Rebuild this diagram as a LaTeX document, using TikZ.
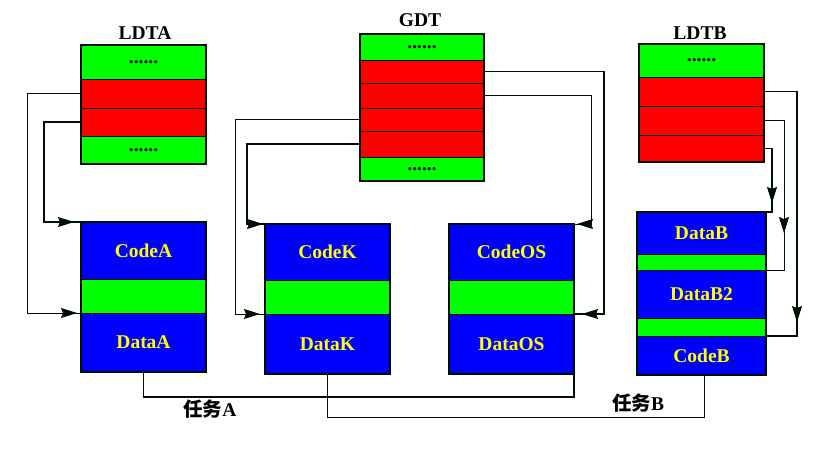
\documentclass[tikz,border=0pt]{standalone}
\usepackage{fontspec}
\setmainfont{Liberation Serif}
\newfontfamily\cjk{Noto Sans CJK SC}
\usetikzlibrary{arrows.meta,decorations.markings}
\definecolor{cgreen}{RGB}{0,255,0}
\definecolor{cred}{RGB}{255,0,0}
\definecolor{cblue}{RGB}{0,0,255}
\definecolor{cyel}{RGB}{255,255,0}
\definecolor{cline}{RGB}{0,16,0}
\begin{document}
\begin{tikzpicture}[x=1pt,y=-1pt,
  cell/.style 2 args={draw=cline,line width=0.9pt,inner sep=0pt,outer sep=0pt,
    minimum width=#1,minimum height=#2,font=\fontsize{19.5}{20}\selectfont\bfseries},
  gcell/.style 2 args={cell={#1}{#2},fill=cgreen},
  rcell/.style 2 args={cell={#1}{#2},fill=cred},
  bcell/.style 2 args={cell={#1}{#2},fill=cblue,text=cyel},
  frame/.style={draw=cline,line width=1.4pt},
  lbl/.style={inner sep=0pt,font=\fontsize{19.5}{20}\selectfont\bfseries},
  thinc/.style={draw=cline,line width=0.8pt},
  thickc/.style={draw=cline,line width=1.4pt},
  arrowat/.style={postaction={decorate,decoration={markings,
    mark=at position #1 with {\arrow[line width=0.8pt]{Stealth[length=16pt,width=10pt,inset=2pt]}}}}}
]
\useasboundingbox (0,0) rectangle (835,463);
\fill[white] (0,0) rectangle (835,463);

% LDTA
\node[lbl] (tLDTA) at (145,33) {LDTA};
\node[gcell={125}{34}] (la1) at (143.5,62) {......};
\node[rcell={125}{29}] (la2) at (143.5,93.5) {};
\node[rcell={125}{28}] (la3) at (143.5,122) {};
\node[gcell={125}{28}] (la4) at (143.5,150) {......};
\draw[frame] (la1.north west) rectangle (la4.south east);

% GDT
\node[lbl] (tGDT) at (420,20) {GDT};
\node[gcell={124}{26}] (g1) at (422,47) {......};
\node[rcell={124}{23}] (g2) at (422,71.5) {};
\node[rcell={124}{25}] (g3) at (422,95.5) {};
\node[rcell={124}{23}] (g4) at (422,119.5) {};
\node[rcell={124}{26}] (g5) at (422,144) {};
\node[gcell={124}{24}] (g6) at (422,169) {......};
\draw[frame] (g1.north west) rectangle (g6.south east);

% LDTB
\node[lbl] (tLDTB) at (700,33) {LDTB};
\node[gcell={125}{33}] (lb1) at (701.5,60.5) {......};
\node[rcell={125}{29}] (lb2) at (701.5,91.5) {};
\node[rcell={125}{29}] (lb3) at (701.5,120.5) {};
\node[rcell={125}{27}] (lb4) at (701.5,148.5) {};
\draw[frame] (lb1.north west) rectangle (lb4.south east);

% Task A segments
\node[bcell={125}{57}] (ca1) at (143.5,250.5) {CodeA};
\node[gcell={125}{34}] (ca2) at (143.5,296) {};
\node[bcell={125}{59}] (ca3) at (143.5,342.5) {DataA};
\draw[frame] (ca1.north west) rectangle (ca3.south east);

% Kernel segments
\node[bcell={125}{56}] (k1) at (327.5,252) {CodeK};
\node[gcell={125}{34}] (k2) at (327.5,297) {};
\node[bcell={125}{60}] (k3) at (327.5,344) {DataK};
\draw[frame] (k1.north west) rectangle (k3.south east);

% OS segments
\node[bcell={125}{56}] (os1) at (511.5,252) {CodeOS};
\node[gcell={125}{34}] (os2) at (511.5,297) {};
\node[bcell={125}{60}] (os3) at (511.5,344) {DataOS};
\draw[frame] (os1.north west) rectangle (os3.south east);

% Task B segments
\node[bcell={129}{42}] (bb1) at (701.5,233) {DataB};
\node[gcell={129}{16}] (bb2) at (701.5,262) {};
\node[bcell={129}{48}] (bb3) at (701.5,294) {DataB2};
\node[gcell={129}{18}] (bb4) at (701.5,327) {};
\node[bcell={129}{39}] (bb5) at (701.5,355.5) {CodeB};
\draw[frame] (bb1.north west) rectangle (bb5.south east);

% LDTA connectors
\draw[thinc,arrowat=-4pt] (la2.west) -- ++(-54,0) |- (ca3.north west);
\draw[thickc,arrowat=-7pt] (la3.west) -- ++(-37,0) |- (ca1.north west);

% GDT connectors
\draw[thinc,arrowat=-5pt] (g4.west) -- ++(-125,0) |- (k3.north west);
\draw[thickc,arrowat=-2pt] (g5.west) -- ++(-113,0) |- (k1.north west);
\draw[thickc,arrowat=-8pt] (g2.east) -- ++(120,0) |- (os3.north east);
\draw[thinc,arrowat=-3pt] (g3.east) -- ++(107,0) |- (os1.north east);

% LDTB connectors
\draw[thickc,arrowat=-45pt] (lb2.east) -- ++(33,0) |- (bb5.north east);
\draw[thinc,arrowat=-55pt] (lb3.east) -- ++(20,0) |- (bb3.north east);
\draw[thickc,arrowat=-15pt] (lb4.east) -- ++(8,0) |- (bb1.north east);

% Task lines
\draw[thickc] (ca3.south) -- ++(0,25) -| (os3.south east);
\node[lbl] (tA) at (210,409) {{\cjk\bfseries 任务}A};
\draw[thinc] (k3.south) -- ++(0,43) -| ([xshift=2.5pt]bb5.south);
\node[lbl] (tB) at (638,403) {{\cjk\bfseries 任务}B};
\end{tikzpicture}
\end{document}
